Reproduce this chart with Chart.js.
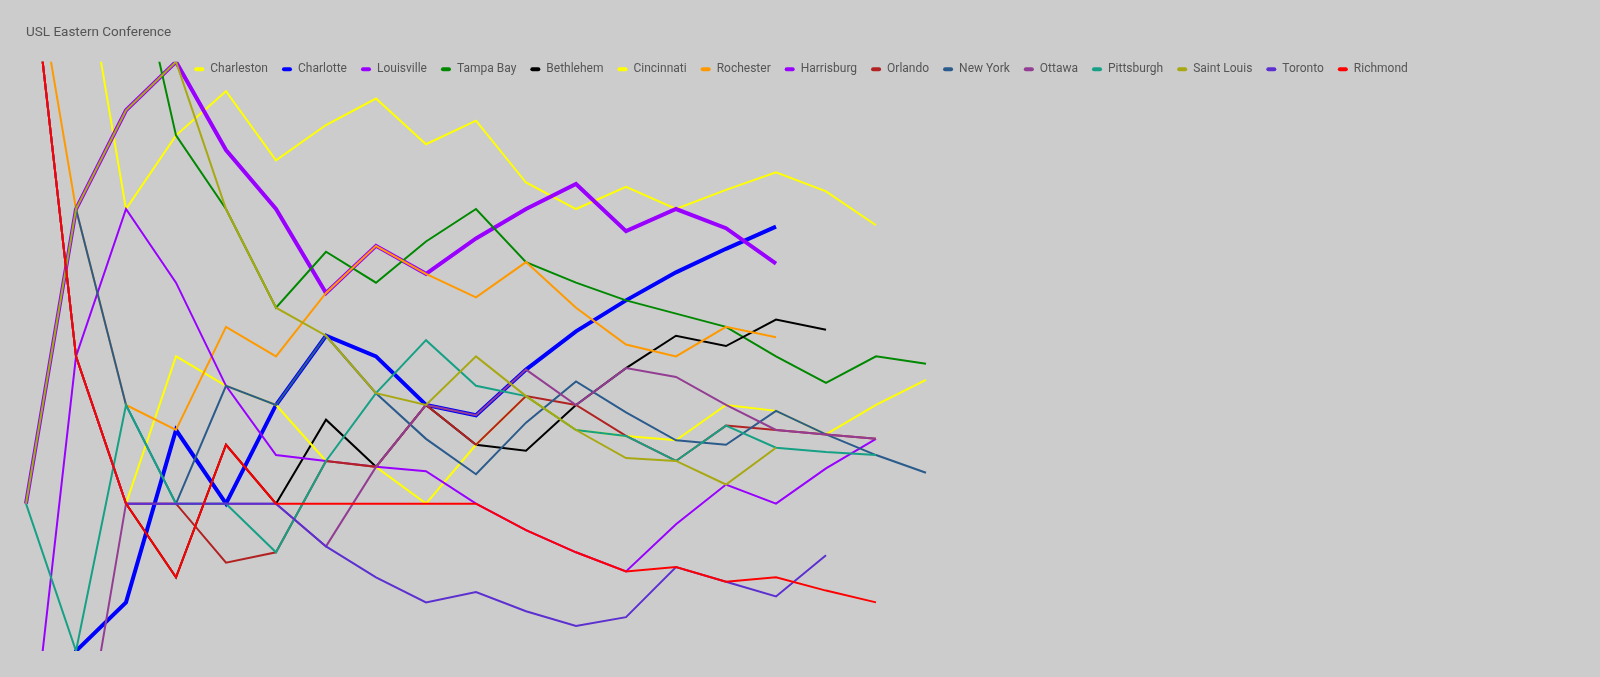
<!DOCTYPE html>
<html>
<head>
<meta charset="utf-8">
<title>USL Eastern Conference</title>
<script src="https://cdn.jsdelivr.net/npm/chart.js@4/dist/chart.umd.min.js"></script>
<style>
  html, body { margin: 0; padding: 0; background: #cccccc; }
  #wrap { width: 1600px; height: 677px; }
</style>
</head>
<body>
<div id="wrap"><canvas id="myChart"></canvas></div>
<script>
// game numbers of the season
const games = ['1', '2', '3', '4', '5', '6', '7', '8', '9', '10', '11', '12', '13', '14', '15', '16',
               '17', '18', '19', '20', '21', '22', '23', '24', '25', '26', '27', '28', '29', '30', '31', '32'];

const teamNames = ['Charleston', 'Charlotte', 'Louisville', 'Tampa Bay', 'Bethlehem', 'Cincinnati', 'Rochester',
                   'Harrisburg', 'Orlando', 'New York', 'Ottawa', 'Pittsburgh', 'Saint Louis', 'Toronto', 'Richmond'];

// values read per game
const charleston = [4, 4, 2, 2.5, 2.8, 2.33, 2.57, 2.75, 2.44, 2.6, 2.18, 2, 2.15, 2, 2.13, 2.25, 2.12, 1.89];
const charlotte  = [-2, -1, -0.67, 0.5, 0, 0.67, 1.14, 1, 0.67, 0.6, 0.91, 1.17, 1.38, 1.57, 1.73, 1.88];
const louisville = [0, 2, 2.67, 3, 2.4, 2, 1.43, 1.75, 1.56, 1.8, 2, 2.17, 1.85, 2, 1.87, 1.63];
const tampaBay   = [4, 4, 4, 2.5, 2, 1.33, 1.71, 1.5, 1.78, 2, 1.64, 1.5, 1.38, 1.29, 1.2, 1, 0.82, 1, 0.95];
const bethlehem  = [4, 1, 0, -0.5, 0.4, 0, 0.57, 0.25, 0.67, 0.4, 0.36, 0.67, 0.92, 1.14, 1.07, 1.25, 1.18];
const cincinnati = [4, 1, 0, 1, 0.8, 0.67, 0.29, 0.25, 0, 0.4, 0.73, 0.5, 0.46, 0.43, 0.67, 0.63, 0.47, 0.67, 0.84];
const rochester  = [4, 2, 0.67, 0.5, 1.2, 1, 1.43, 1.75, 1.56, 1.4, 1.64, 1.33, 1.08, 1, 1.2, 1.13];
const harrisburg = [-2, 1, 2, 1.5, 0.8, 0.33, 0.29, 0.25, 0.22, 0, -0.18, -0.33, -0.46, -0.14, 0.13, 0, 0.24, 0.44];
const orlando    = [4, 1, 0, 0, -0.4, -0.33, 0.29, 0.25, 0.67, 0.4, 0.73, 0.67, 0.46, 0.29, 0.53, 0.5, 0.47, 0.44];
const newYork    = [0, 2, 0.67, 0, 0.8, 0.67, 1.14, 0.75, 0.44, 0.2, 0.55, 0.83, 0.62, 0.43, 0.4, 0.63, 0.47, 0.33, 0.21];
const ottawa     = [-2, -2, 0, 0, 0, 0, -0.29, 0.25, 0.67, 0.6, 0.91, 0.67, 0.92, 0.86, 0.67, 0.5, 0.47, 0.44];
const pittsburgh = [0, -1, 0.67, 0, 0, -0.33, 0.29, 0.75, 1.11, 0.8, 0.73, 0.5, 0.46, 0.29, 0.53, 0.38, 0.35, 0.33];
const saintLouis = [0, 2, 2.67, 3, 2, 1.33, 1.14, 0.75, 0.67, 1, 0.73, 0.5, 0.31, 0.29, 0.13, 0.38];
const toronto    = [4, 1, 0, 0, 0, 0, -0.29, -0.5, -0.67, -0.6, -0.73, -0.83, -0.77, -0.43, -0.53, -0.63, -0.35];
const richmond   = [4, 1, 0, -0.5, 0.4, 0, 0, 0, 0, 0, -0.18, -0.33, -0.46, -0.43, -0.53, -0.5, -0.59, -0.67];

const teamValues = [charleston, charlotte, louisville, tampaBay, bethlehem, cincinnati, rochester,
                    harrisburg, orlando, newYork, ottawa, pittsburgh, saintLouis, toronto, richmond];

const teamColors = ['#ffff00', '#0000ff', '#9900ff', '#008800', '#000000', '#ffff00', '#ff9900',
                    '#9900ff', '#b22222', '#2b5b8c', '#933d93', '#16a085', '#a8a812', '#5c2fd1', '#ff0000'];

const thickTeams = ['Charlotte', 'Louisville'];

Chart.defaults.font.family = 'Roboto';

const datasets = teamNames.map((name, i) => ({
    label: name,
    data: teamValues[i],
    borderColor: teamColors[i],
    backgroundColor: teamColors[i],
    borderWidth: thickTeams.includes(name) ? 4 : 2,
    pointRadius: 0,
    pointHoverRadius: 0,
    tension: 0,
    fill: false,
    // later teams are painted over earlier ones
    order: teamNames.length - i,
}));

// let the legend sit over the top edge of the plot
const legendOverlap = {
    id: 'legendOverlap',
    beforeLayout(chart) {
        const legend = chart.legend;
        if (legend && !legend._overlapPatched) {
            const fit = legend.fit;
            legend.fit = function () {
                fit.call(this);
                this.height = 12.5;
            };
            const draw = legend.draw;
            legend.draw = function () {
                const bottom = this.bottom;
                this.bottom = this.top + 40;
                draw.call(this);
                this.bottom = bottom;
            };
            legend._overlapPatched = true;
        }
    },
};

const config = {
    type: 'line',
    data: {
        labels: games,
        datasets: datasets,
    },
    options: {
        responsive: true,
        maintainAspectRatio: false,
        animation: false,
        layout: {
            padding: { left: 26, right: 24, top: 0, bottom: 26 },
        },
        scales: {
            x: { display: false },
            y: { display: false, min: -1, max: 3 },
        },
        plugins: {
            title: {
                display: true,
                text: 'USL Eastern Conference',
                align: 'start',
                color: '#555555',
                font: { size: 13.5, weight: 'normal' },
                padding: { top: 25, bottom: 8 },
            },
            legend: {
                position: 'top',
                labels: {
                    color: '#555555',
                    font: { size: 12 },
                    boxWidth: 10,
                    boxHeight: 4,
                    padding: 14,
                    useBorderRadius: true,
                    borderRadius: 2,
                    sort: (a, b) => a.datasetIndex - b.datasetIndex,
                    generateLabels: (chart) =>
                        Chart.defaults.plugins.legend.labels.generateLabels(chart)
                            .map((item) => ({ ...item, lineWidth: 0 })),
                },
            },
            tooltip: { enabled: false },
        },
    },
    plugins: [legendOverlap],
};

const ctx = document.getElementById('myChart').getContext('2d');
const myChart = new Chart(ctx, config);
</script>
</body>
</html>
